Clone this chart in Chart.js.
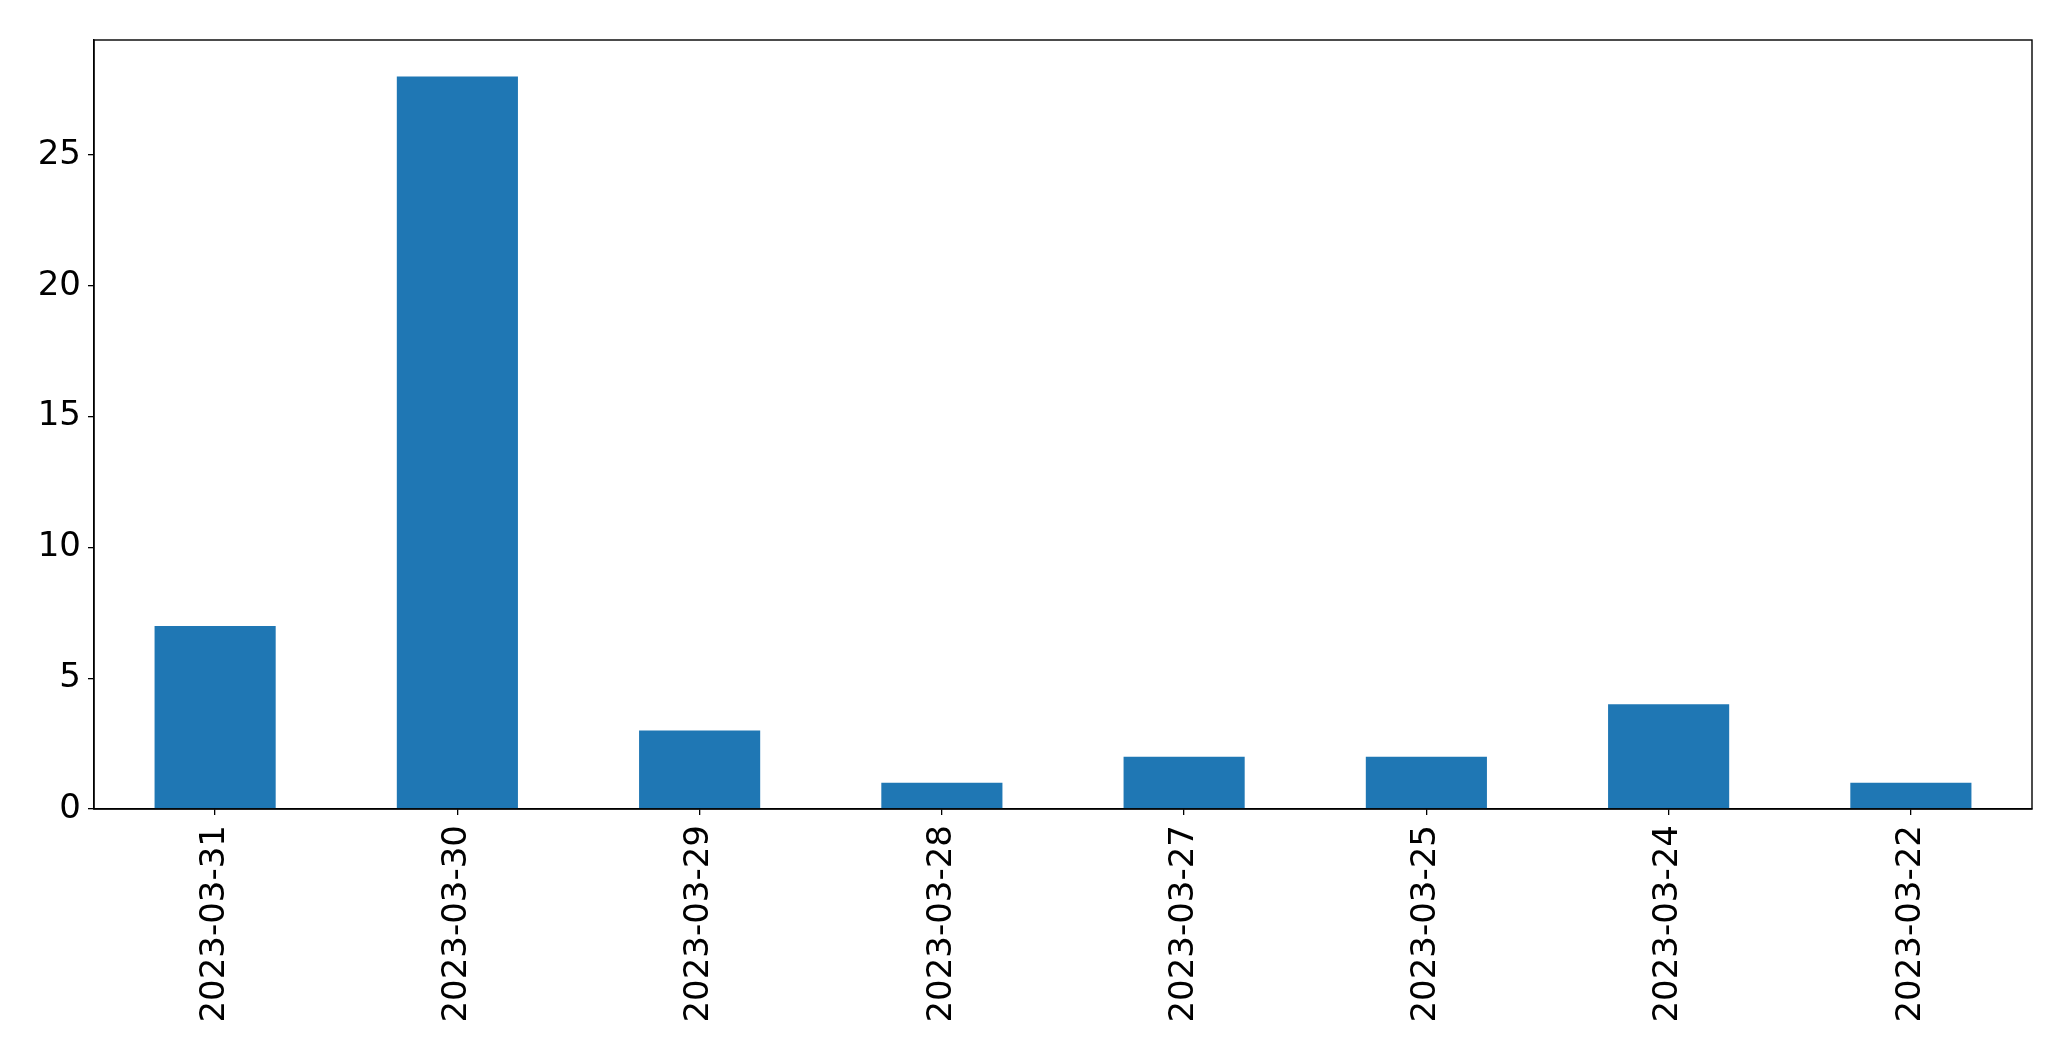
<!DOCTYPE html>
<html>
<head>
<meta charset="utf-8">
<script src="https://cdn.jsdelivr.net/npm/chart.js@4/dist/chart.umd.min.js"></script>
<style>
html,body{margin:0;padding:0;background:#fff;}
#wrap{width:2071px;height:1061px;position:relative;}
</style>
</head>
<body>
<div id="wrap"><canvas id="c" width="2071" height="1061"></canvas></div>
<script>
const categories = ["2023-03-31","2023-03-30","2023-03-29","2023-03-28","2023-03-27","2023-03-25","2023-03-24","2023-03-22"];
const counts = [7, 28, 3, 1, 2, 2, 4, 1];
const yTicks = [0, 5, 10, 15, 20, 25];

const frame = {
  id: 'frame',
  afterDraw(chart) {
    const a = chart.chartArea, ctx = chart.ctx;
    ctx.save();
    ctx.strokeStyle = '#000';
    ctx.lineWidth = 1.4;
    ctx.strokeRect(a.left, a.top, a.right - a.left, a.bottom - a.top);
    ctx.restore();
  }
};

new Chart(document.getElementById('c'), {
  type: 'bar',
  data: {
    labels: categories,
    datasets: [{ data: counts, backgroundColor: '#1f77b4', borderWidth: 0,
      categoryPercentage: 1.0, barPercentage: 0.5 }]
  },
  options: {
    responsive: false,
    animation: false,
    events: [],
    layout: { padding: { left: 0, top: 40, right: 39, bottom: 0 } },
    plugins: { legend: { display: false }, tooltip: { enabled: false } },
    scales: {
      x: {
        offset: true,
        grid: { display: true, offset: false, drawOnChartArea: false, tickLength: 6, color: '#000', lineWidth: 1.3 },
        border: { display: true, color: '#000', width: 1.4 },
        ticks: { color: '#000', font: { family: 'DejaVu Sans', size: 34 }, minRotation: 90, maxRotation: 90, padding: 10, autoSkip: false },
        afterFit(s) { s.height = 252; }
      },
      y: {
        min: 0, max: 29.4,
        afterBuildTicks(s) { s.ticks = yTicks.map(v => ({ value: v })); },
        grid: { display: true, drawOnChartArea: false, tickLength: 6, color: '#000', lineWidth: 1.3 },
        border: { display: true, color: '#000', width: 1.4 },
        ticks: { color: '#000', font: { family: 'DejaVu Sans', size: 34 }, padding: 7 },
        afterFit(s) { s.width = 94; }
      }
    }
  },
  plugins: [frame]
});
</script>
</body>
</html>
